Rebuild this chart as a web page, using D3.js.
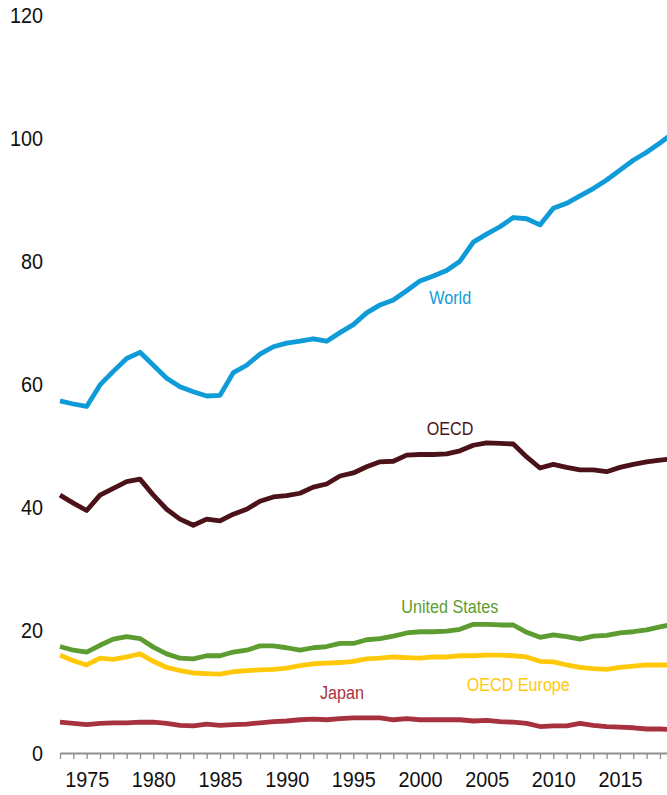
<!DOCTYPE html>
<html>
<head>
<meta charset="utf-8">
<script src="https://cdn.jsdelivr.net/npm/d3@7"></script>
<style>
  html, body { margin: 0; padding: 0; background: #fff; overflow: hidden; }
  svg { display: block; }
  text { font-family: "Liberation Sans", Arial, sans-serif; }
</style>
</head>
<body>
<svg id="chart" width="667" height="795"></svg>
<script>
const years = d3.range(1973, 2020);
const yTicks = [0, 20, 40, 60, 80, 100, 120];
const xLabelYears = [1975, 1980, 1985, 1990, 1995, 2000, 2005, 2010, 2015];

const world = [57.2,56.7,56.3,59.8,62.0,64.1,65.1,63.0,60.9,59.5,58.7,58.0,58.1,61.8,63.0,64.8,66.0,66.6,
  66.9,67.3,66.9,68.3,69.6,71.5,72.8,73.6,75.1,76.7,77.5,78.4,79.9,83.0,
  84.3,85.5,87.0,86.8,85.8,88.5,89.3,90.5,91.7,93.1,94.7,96.3,97.6,99.1,100.7];
const oecd = [41.9,40.6,39.4,41.9,43.0,44.1,44.5,41.9,39.6,38.0,37.0,38.0,37.7,38.8,39.6,40.9,41.6,41.8,
  42.2,43.2,43.7,45.0,45.5,46.5,47.3,47.4,48.4,48.5,48.5,48.6,49.1,50.0,
  50.4,50.3,50.2,48.1,46.3,46.9,46.4,46.0,46.0,45.7,46.4,46.9,47.3,47.6,47.8];
const unitedStates = [17.3,16.7,16.4,17.5,18.5,18.9,18.6,17.2,16.1,15.4,15.3,15.8,15.8,16.4,16.7,17.4,17.4,17.1,
  16.7,17.1,17.3,17.8,17.8,18.4,18.6,19.0,19.5,19.7,19.7,19.8,20.1,20.9,
  20.9,20.8,20.8,19.6,18.8,19.2,18.9,18.5,19.0,19.1,19.5,19.7,20.0,20.5,20.9];
const oecdEurope = [15.9,15.0,14.3,15.4,15.2,15.6,16.1,14.9,13.9,13.4,13.0,12.9,12.8,13.2,13.4,13.5,13.6,13.8,
  14.2,14.5,14.6,14.7,14.9,15.3,15.4,15.6,15.5,15.4,15.6,15.6,15.8,15.8,
  15.9,15.9,15.8,15.6,14.9,14.8,14.3,13.9,13.7,13.6,13.9,14.1,14.3,14.3,14.3];
const japan = [5.0,4.8,4.6,4.8,4.9,4.9,5.0,5.0,4.8,4.5,4.4,4.7,4.5,4.6,4.7,4.9,5.1,5.2,
  5.4,5.5,5.4,5.6,5.7,5.7,5.7,5.4,5.6,5.4,5.4,5.4,5.4,5.2,
  5.3,5.1,5.0,4.8,4.3,4.4,4.4,4.8,4.5,4.3,4.2,4.1,3.9,3.9,3.8];

const seriesNames = ["World", "OECD", "United States", "OECD Europe", "Japan"];
const seriesValues = [world, oecd, unitedStates, oecdEurope, japan];
const seriesColors = ["#0f9bd7", "#4b1319", "#5d9c30", "#ffc90a", "#a8313f"];
// label anchor (left edge year, vertical centre value)
const labelYears = [2000.7, 2000.5, 1998.6, 2003.5, 1992.5];
const labelValues = [74.1, 52.8, 23.9, 11.2, 9.9];

const svg = d3.select("#chart");
const x = d3.scaleLinear().domain([1973, 2019]).range([60, 673.3]);
const y = d3.scaleLinear().domain([0, 120]).range([753, 14.4]);

// y tick labels (no axis line)
const yAxis = d3.axisLeft(y).tickValues(yTicks).tickSize(0).tickPadding(0).tickFormat(d3.format("d"));
const gy = svg.append("g").attr("transform", "translate(43,0)").call(yAxis);
gy.select(".domain").remove();
gy.selectAll("text").attr("font-size", 22).attr("fill", "#111")
  .style("font-family", '"Liberation Sans", Arial, sans-serif')
  .attr("dy", "0.36em")
  .attr("transform", "scale(0.9,1)");

// x axis
const xAxis = d3.axisBottom(x).tickValues(years).tickSize(6).tickSizeOuter(0)
  .tickFormat(d => xLabelYears.includes(d) ? String(d) : "");
const gx = svg.append("g").attr("transform", `translate(0,${y(0)})`).call(xAxis);
gx.select(".domain").attr("stroke", "#8f8f8f").attr("stroke-width", 2);
gx.selectAll(".tick line").attr("stroke", "#8f8f8f").attr("stroke-width", 1.3);
gx.selectAll(".tick text").attr("font-size", 22).attr("fill", "#111")
  .style("font-family", '"Liberation Sans", Arial, sans-serif')
  .attr("y", 34.5).attr("dy", "0")
  .attr("transform", "scale(0.9,1)");

// lines
const line = d3.line().x((d, i) => x(years[i])).y(d => y(d)).curve(d3.curveLinear);
seriesValues.forEach((vals, k) => {
  svg.append("path")
    .datum(vals)
    .attr("d", line)
    .attr("fill", "none")
    .attr("stroke", seriesColors[k])
    .attr("stroke-width", 4.8)
    .attr("stroke-linejoin", "round")
    .attr("stroke-linecap", "butt");
});

// series labels
seriesNames.forEach((name, k) => {
  svg.append("g")
    .attr("transform", `translate(${x(labelYears[k])},${y(labelValues[k])})`)
    .append("text")
    .attr("dy", "0.35em")
    .attr("font-size", 19)
    .attr("fill", seriesColors[k])
    .attr("transform", "scale(0.85,1)")
    .text(name);
});
</script>
</body>
</html>
